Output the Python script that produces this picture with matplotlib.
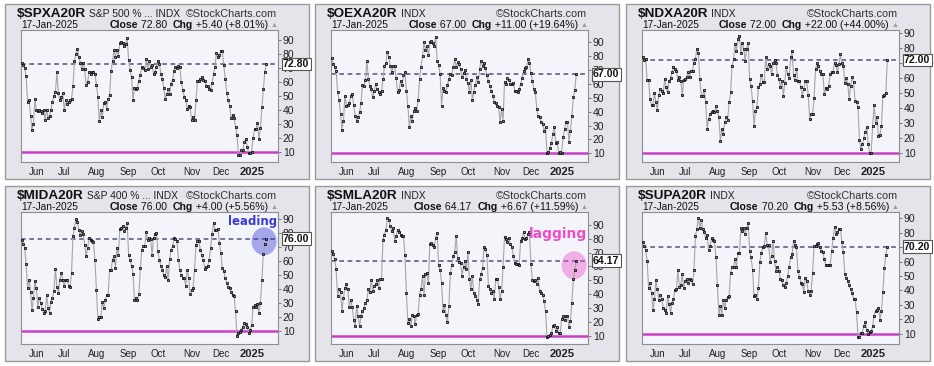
import numpy as np
import pandas as pd
import matplotlib
matplotlib.use("Agg")
import matplotlib.pyplot as plt
from matplotlib.patches import Rectangle, Ellipse
from matplotlib.transforms import blended_transform_factory

W, H = 934, 366

# trading days shown (last ~8 months, Jan 9 2025 market closed)
holidays = ["2024-05-27", "2024-06-19", "2024-07-04", "2024-09-02",
            "2024-11-28", "2024-12-25", "2025-01-01", "2025-01-09"]
dates = pd.bdate_range("2024-05-17", "2025-01-17")
dates = dates[~dates.isin(pd.to_datetime(holidays))]

tickers = ["$SPXA20R", "$OEXA20R", "$NDXA20R", "$MIDA20R", "$SMLA20R", "$SUPA20R"]
names = ["S&P 500 % ... INDX", "INDX", "INDX", "S&P 400 % ... INDX", "INDX", "INDX"]

spx = [74, 72, 70, 64, 46, 47, 36, 25.5, 30,
       48, 40, 39, 40, 39, 38, 40, 33, 40, 34, 36, 40, 46, 50, 53, 67, 52, 47, 49,
       52, 40, 47, 44, 46, 47, 48, 57, 75, 80, 83.5, 78, 74, 69, 74, 69, 58, 60, 67, 66, 67, 67,
       66, 58, 49, 32, 40, 35, 45, 46, 41, 48, 51, 68, 75, 83, 78, 83, 79, 88, 89, 88, 86, 87,
       91.4, 75.8, 68.6, 63.4, 47, 56, 55, 56, 61, 65.3, 71, 70, 68.6, 76.4, 69.3, 75, 70.5, 72, 65.8, 67,
       70.5, 75, 73, 66, 62, 56, 48, 51.5, 55, 51.5, 58.6, 61.7, 68, 71, 70, 71.7, 70.5, 59.8, 54.4, 49.6, 47.3, 41, 43,
       42, 32.5, 35, 33, 47, 60.6, 61, 62, 63.4, 61.7, 61, 57, 57, 55, 54, 59, 66, 71, 81, 77.6,
       79.5, 82.4, 82, 72, 62, 52, 47, 43, 34, 36.6, 34, 28, 22, 7.6, 7.6, 11, 11, 17, 19.5, 13.6, 9,
       9.5, 10, 20, 26, 26, 31, 19, 27, 42, 55, 67.4, 72.8]

oex = [79, 74.4, 72, 69.6, 54, 48.7, 38.3, 27, 33.5, 51.6, 44.4, 44.8, 46.3, 51.6,
       52.8, 44.8, 37, 33.5, 36, 39.5, 46, 59.5, 58.3, 62.9, 76.8, 63.6, 58.8,
       56.4, 50.4, 55, 60, 56.4, 54.4, 52.8, 55, 63.6, 73.2, 74.9,
       83.3, 79.2, 73.2, 68.4, 73.2, 72.7, 64, 54, 55.9, 62.4, 59.2, 66.5,
       68.4, 55, 44.4, 28.7, 36.7, 33.5, 40.7, 43, 40.7, 48.4,
       63.6, 72.5, 80.4, 90, 84.7, 87.6, 80.9, 90, 90.7, 89.3,
       87.6, 94.3, 76.3, 73.7, 67.2, 44.4, 56.8, 55.2, 54, 59.2, 63.6, 67.2, 66.5,
       72, 78, 72.5, 75.6, 74.4, 70.8, 64.8,
       67.9, 70, 63.6, 60.7, 54, 62.9, 48.7, 54, 59.2, 64.8, 61.7,
       70.8, 76.8, 73.2, 75.1, 71.3, 66.5, 61.9, 58.3, 55.2, 51.6,
       46.8, 46, 43.9, 43.2, 32.3, 42, 33.5, 61.7, 60, 64.3, 62.9, 60,
       60, 60.5, 55.2,
       55.2, 54.4, 56.4, 60, 64.3, 69.6, 71.3, 72.5, 78, 74.9, 67.7, 62.4, 56.4, 54.4, 42, 37.1, 36,
       32.3, 31.1, 26.3, 28.7, 10, 10.7, 13.6, 17.4, 23.9, 28.7, 17.4, 18.4, 10.2, 11.2, 10.2, 21.5, 27.5, 32.3,
       32.3, 18.4, 26.3, 37.1, 50.4, 56, 67]

ndx = [73.8, 72.2, 73, 58.7, 58.7, 46, 42, 42, 50,
       43.8, 38.9, 48.7, 52.7, 51.6, 50, 59.3, 53.8, 50.4, 58.2, 59.8, 63.8, 67.6, 66.4, 64.9, 58.7, 60.4, 58.2, 48.7,
       58.7, 59.3, 60.4, 63.8, 60.4, 64.9, 64.9, 70.4, 73, 79.8, 76.7, 59.3, 48.2, 48.2, 52.2, 43.8, 26, 32.7, 36, 37, 38.2, 37,
       41.1, 38.2, 33.8, 17.6, 26, 22.7, 30.4, 33.8, 32.2, 43.8, 50.4, 68.2, 72.7, 82.7, 78.2, 86.4, 88.2, 77.1, 83.8, 79.8, 71.6, 79.8,
       83.8, 59.3, 54.4, 44.4, 28.2, 38.2, 40.4, 53.8, 56, 62, 57.6, 57.1, 74.4, 66, 69.3, 68.2, 62.7, 70.4, 72.2, 69.8,
       62, 59.3, 53.8, 58.2, 48.2, 56.7, 67.6, 62.7, 60, 73.8, 78.2, 62, 58.9, 66, 58.2, 58.2, 53.8, 48.2, 52.7, 58.2, 57.8, 48.7, 32.7,
       36, 36, 46.4, 66, 70, 68.2, 64.9, 62.7, 62.7, 49.3, 53.1, 52.7, 54.9, 62.7, 64.2, 63.8, 70.4, 68.7, 64.2, 69.3,
       76, 70, 68.2, 56.4, 59.8, 56, 46, 54.9, 60.4, 57.1, 44.9, 43.8, 40.4, 18.2, 12.2, 16, 19.8, 24.2, 27.1, 16, 10,
       9.8, 28, 42, 30, 34, 21, 22, 28, 47.8, 49, 50, 72]

mid = [75, 72.3, 69.2, 57.7, 40.4, 46.4, 38, 24.9, 33.2,
       45.7, 40.4, 27.2, 33.2, 30.1, 25.3, 22.9, 24.1, 35.6, 26.5, 22.9, 30.8, 33.7, 38.5, 54.1, 41.6, 37.3, 46.4, 51.2,
       46.4, 42.1, 46.4, 46.4, 42.1, 41.6, 51.2, 78, 83.5, 90, 87.6, 82.3, 78.7, 81.1, 79.5, 71.6, 63.2, 69.2, 76.3, 75.1, 74, 73.2,
       60.8, 39.2, 18.1, 20.1, 19.6, 30.8, 26, 31.6, 35.6, 35.6, 53.6, 53.1, 60.8, 63.2, 54.8, 69.2, 64.4, 82.8, 83.5, 84.7, 81.1, 83.5,
       87.1, 64.4, 60.8, 56.5, 50.7, 32, 33.2, 32, 36.3, 54.8, 68, 70.8, 70.4, 80.7, 75.1, 76.3, 75.6, 64.4, 76.3, 79.5,
       80, 66.8, 60.8, 56, 53.6, 50, 48.3, 56, 46.4, 61.3, 68, 70.4, 76.3, 75.6, 74.4, 60.8, 53.6, 50, 47.6, 47.6, 42.1, 53.6, 47.6,
       36.1, 39.2, 40.4, 53.6, 71.6, 74, 74.4, 67.5, 64.4, 60.8, 54.1, 55.3, 56.5, 60.8, 69.2, 79.5, 87.1, 82.3, 82.3, 82.8,
       72.8, 65.6, 54.8, 52.4, 47.6, 44, 41.6, 40.4, 38, 35.6, 34.9, 23.7, 6.2, 8.1, 9.3, 10.5, 12.9, 15.3, 14.8, 12.4, 8.1,
       10.5, 14.1, 26.8, 28.4, 27.2, 29.2, 22.5, 30.1, 46.4, 65, 72, 76]

sml = [71.3, 68.9, 65.3, 58, 39.1, 43.5, 41.5, 28.2, 37.4,
       44.7, 47.1, 43.5, 30.8, 36.2, 30.8, 21.6, 16.8, 31.8, 24.5, 16.8, 24.1, 27.7, 30.1, 33.8, 35.7, 43.5, 41.5, 50.2,
       42.2, 45.9, 47.1, 50.2, 44.7, 50.7, 51.2, 79.1, 82.7, 85.9, 94.8, 93.2, 88.8, 85.2, 87.6, 78.6, 81.8, 86.6, 84.7, 82.7, 82.2, 82.2,
       68.2, 41, 19.2, 22.1, 16.8, 25.3, 24.5, 18.7, 25.3, 26, 39.8, 43.9, 53.2, 39.8, 54.4, 55.6, 47.8, 76.2, 76.7, 75.5, 73.8, 80.3,
       84.2, 60.9, 57.5, 48.3, 28.2, 32.5, 25.3, 19.7, 31.3, 55.6, 60.9, 67.2, 70.6, 81.8, 65.8, 63.3, 62.8, 53.2, 59.9, 64.1,
       58, 70.6, 50.7, 43.5, 53.2, 41, 39.1, 36.2, 33, 50.7, 54.4, 59.2, 73.8, 72.5, 68.2, 45.9, 43.9, 41, 42.2, 36.7, 51.2, 51.2, 45.4,
       36.7, 42.2, 59.9, 81.5, 79.8, 77.9, 80.3, 76.2, 73.8, 67.7, 62.8, 61.6, 61.6, 60.9, 78.6, 80.3, 84.7, 79.8, 80.5, 83.5,
       84.7, 62, 50.2, 49.5, 50.2, 47.1, 51.9, 42, 41, 39.8, 35, 27.7, 9.5, 10.2, 10.7, 11.9, 16.8, 18, 13.2, 16.3, 12.4,
       12, 22.1, 24.1, 21.6, 24.1, 24.5, 16.3, 20.4, 33.8, 50.7, 57.5, 64.1667]

sup = [73.7, 70.9, 68.1, 60.5, 41.9, 45.3, 38.4, 26.3, 34.2,
       47.2, 40.7, 33.3, 37.2, 34.2, 27.9, 26.7, 24.4, 36, 30.9, 24.4, 31.4, 34.2, 40, 40.7, 54.2, 42.6, 43.5, 51.2,
       41.9, 46.5, 47.7, 44.9, 48.1, 47.2, 44.2, 54, 77.9, 82.6, 90, 83, 88.4, 82.6, 80.7, 76, 78.4, 68.1, 70.9, 76, 74.9, 74.4,
       62.8, 43.5, 23.3, 29.1, 23.3, 33.7, 27.9, 33.3, 35.6, 36, 52.3, 56.5, 56.5, 61.6, 56.5, 65.8, 65.8, 83, 81.4, 83, 79.1, 83,
       86.7, 67.4, 62.8, 54.2, 36, 37.2, 34.2, 41.9, 59.8, 65.8, 69.8, 70.9, 79.8, 71.4, 71.4, 59.8, 64, 74.4, 60.5, 53.5,
       56.5, 53.5, 48.1, 47.2, 43.5, 42.6, 45, 50, 56.5, 62.8, 65.1, 74.4, 71.4, 69.8, 53.5, 49.5, 45.3, 44.2, 38.8, 48.8, 46.5, 39.5, 37.2,
       39.5, 52.3, 70.9, 70.9, 72.1, 72.8, 70, 67.4, 66.3, 61.6, 57.4, 57.4, 57.4, 57.4, 67.4, 76, 83.7, 79.1, 80.7, 82.6,
       82.6, 73.3, 66.3, 51.2, 48.8, 46.5, 43.5, 40.7, 38.4, 34.2, 34.2, 24.9, 8.1, 8.1, 10.5, 10.9, 15.6, 17.9, 12.8, 10, 11.6,
       12, 15.1, 22.6, 25.6, 26.3, 27.9, 19.8, 25.6, 38.8, 55.8, 64.6667, 70.2]

series = [spx, oex, ndx, mid, sml, sup]
ylims = [(2.7, 97.3), (3.7, 99.0), (3.8, 92.2), (0.4, 95.0), (4.2, 99.2), (3.0, 94.2)]
notes = [None, None, None, ("leading", "#3a3ad4", 8.5, 0.93), None, None]
notes[4] = ("lagging", "#ea4fc8", 10, 0.835)
oversold = 10

HEAD = ["Liberation Sans", "DejaVu Sans"]
fig = plt.figure(figsize=(W / 100, H / 100), dpi=100, facecolor="white")
ax0 = fig.add_axes([0, 0, 1, 1])
ax0.set_xlim(0, W)
ax0.set_ylim(H, 0)
ax0.axis("off")
renderer = fig.canvas.get_renderer()

N = len(dates)
month_idx = [i for i in range(1, N) if dates[i].month != dates[i - 1].month]
month_lab = [dates[i].strftime("%b") if dates[i].month != 1 else str(dates[i].year) for i in month_idx]


def right_of(t, gap):
    bb = t.get_window_extent(renderer)
    return ax0.transData.inverted().transform((bb.x1, 0))[0] + gap


def left_of(t, gap):
    bb = t.get_window_extent(renderer)
    return ax0.transData.inverted().transform((bb.x0, 0))[0] - gap


frame_x = [4, 314, 625]
frame_y = [3, 185]
fw, fh = 304, 175

for k in range(6):
    fx, fy = frame_x[k % 3], frame_y[k // 3]
    v = np.array(series[k], dtype=float)
    ax0.add_patch(Rectangle((fx + 0.5, fy + 0.5), fw, fh, facecolor="#e4e4ea",
                            edgecolor="#9a9a9a", lw=1))

    # header
    t1 = ax0.text(fx + 13, fy + 14, tickers[k], fontsize=9.7, fontweight="bold",
                  family=HEAD, color="#111111", va="baseline")
    ax0.text(right_of(t1, 3), fy + 14, names[k], fontsize=7.4, family=HEAD,
             color="#222222", va="baseline")
    ax0.text(fx + 273, fy + 14, "\u00a9StockCharts.com", fontsize=7.8, family=HEAD,
             color="#333333", va="baseline", ha="right")
    ax0.text(fx + 17, fy + 24.5, dates[-1].strftime("%d-%b-%Y"), fontsize=7.3,
             family=HEAD, color="#111111", va="baseline")

    d = v[-1] - v[-2]
    parts = [("Close", "bold"), (f" {v[-1]:.2f}  ", "normal"), ("Chg", "bold"),
             (f" {d:+.2f} ({d / v[-2] * 100:+.2f}%)", "normal")]
    ax0.text(fx + 270, fy + 24, "\u25b2", fontsize=5, color="#9a9a9a", family=HEAD,
             va="baseline", ha="center")
    xr = fx + 264
    for s, wgt in reversed(parts):
        t = ax0.text(xr, fy + 24.5, s, fontsize=7.6, fontweight=wgt, family=HEAD,
                     color="#111111", va="baseline", ha="right")
        xr = left_of(t, 0)

    # plot area
    l, r, top, bot = fx + 17, fx + 274, fy + 27, fy + 159
    ax = fig.add_axes([l / W, 1 - bot / H, (r - l) / W, (bot - top) / H])
    ax.set_facecolor("#f4f5fa")
    for sp in ax.spines.values():
        sp.set_color("#8f8f8f")
        sp.set_linewidth(0.8)
    x = np.arange(N - len(v), N)
    ax.axhline(oversold, color="#c93fc9", lw=1.8, zorder=1)
    ax.axhline(v[-1], color="#6a6a90", lw=1.3, ls=(0, (2.6, 2.0)), zorder=1)
    ax.plot(x, v, color="#a6a6a6", lw=0.8, marker="s", ms=1.8, mfc="#80808e",
            mec="#111111", mew=0.6, zorder=3)
    ax.set_xlim(-0.5, N + 7)
    ax.set_ylim(*ylims[k])

    ax.yaxis.tick_right()
    ax.set_yticks(range(10, 100, 10))
    ax.tick_params(axis="y", length=2, width=0.6, color="#666666", pad=1.5,
                   labelsize=7.5, labelcolor="#222222")
    ax.set_xticks(month_idx)
    ax.set_xticklabels(month_lab)
    ax.tick_params(axis="x", length=0, pad=3.5, labelsize=7, labelcolor="#222222")
    for lab in ax.get_yticklabels() + ax.get_xticklabels():
        lab.set_family(HEAD)
    for lab in ax.get_xticklabels():
        if lab.get_text().isdigit():
            lab.set_fontweight("bold")
            lab.set_fontsize(8)

    trans = blended_transform_factory(ax.transAxes, ax.transData)
    ax.annotate(f"{v[-1]:.2f}", xy=(1, v[-1]), xycoords=trans, xytext=(3.5, 0),
                textcoords="offset points", ha="left", va="center", fontsize=7.6,
                fontweight="bold", family=HEAD, color="#111111", annotation_clip=False,
                bbox=dict(boxstyle="square,pad=0.12", fc="white", ec="#555555", lw=0.8),
                zorder=5)

    if notes[k] is not None:
        label, col, fs, yfrac = notes[k]
        ax.text(0.995, yfrac, label, transform=ax.transAxes, ha="right", va="center",
                fontsize=fs, fontweight="bold", color=col, zorder=4)
        xspan = (N + 7.5) / (r - l)
        yspan = (ylims[k][1] - ylims[k][0]) / (bot - top)
        ax.add_patch(Ellipse((x[-1] - 1.5, v[-2:].mean()), 25 * xspan, 28 * yspan,
                             facecolor=col, alpha=0.42, edgecolor="none", zorder=2))

fig.savefig("out.png", dpi=100, facecolor="white")
